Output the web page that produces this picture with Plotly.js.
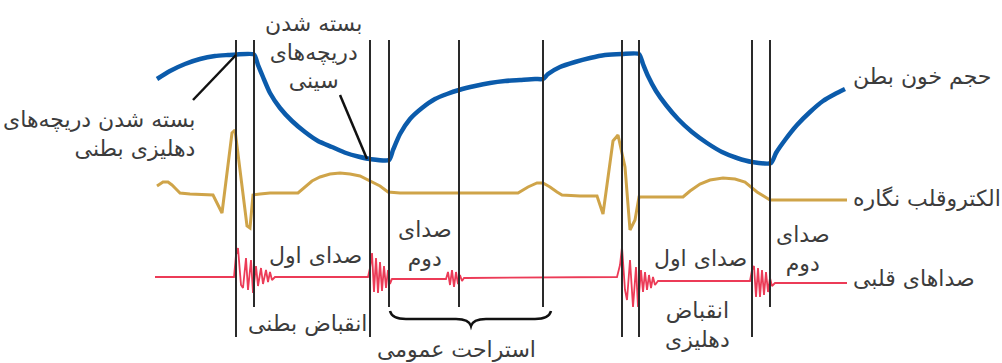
<!DOCTYPE html>
<html>
<head>
<meta charset="utf-8">
<script src="https://cdn.plot.ly/plotly-3.0.1.min.js"></script>
<style>html,body{margin:0;padding:0;background:#fff;}#chart{width:1002px;height:363px;}</style>
</head>
<body>
<div id="chart"></div>
<script>
// Ventricular blood volume (time, level in drawing units; y grows downward)
const volumeX = [157,170,185,200,215,228,236,254,258,263,270,280,292,305,318,332,346,358,370,389,393,400,410,422,435,447,459,475,490,505,520,535,543,548,560,575,590,605,622,639,643,648,656,666,678,692,707,722,737,752,771,776,785,797,810,823,835,845];
const volumeY = [79,71,64,59,56,55,54.5,54.5,65,77,93,108,121,132,141,147,153,156.5,159,160,150,134,119,108,99,94,90,86,83,81,80,79,79,74,67,62,58,55,54,54,64,76,91,105,119,132,143,152,158,162,163,153,140,125,112,101,94,89];

// Electrocardiogram
const ecgX = [157,163,168,172,176,180,190,213,222,227,232,235,240,247,250,253,260,270,298,305,312,320,330,340,350,360,370,380,388,400,450,518,528,537,543,550,557,562,580,597,603,608,613,618,625,630,635,639,660,683,690,700,710,723,735,745,757,765,770,800,847];
const ecgY = [186,182,182,185,189,193,194,195,213,175,133,130,170,226,228,195,194,193,193,187,181,177,174,173,174,176,181,186,192,193,193,193,187,183,183,187,192,195,196,196,214,178,141,135,167,230,220,197,197,197,191,184,180,178,179,182,192,197,200,200,200];

// Heart sounds
const soundX = [155,234,236,238,241,243,246,248,251,253,256,258,261,263,266,268,270,272,275,278,368,370,372,374,376,378,380,382,384,386,388,390,392,395,446,448,450,452,454,456,458,460,462,464,466,617,620,622,625,627,630,633,636,638,641,643,645,647,649,651,653,655,658,662,750,752,754,756,758,760,762,764,766,768,770,772,775,847];
const soundY = [277,277,255,248,285,288,258,290,260,293,266,286,268,284,270,282,272,280,277,277,277,268,253,292,258,293,262,291,266,288,270,284,279,279,279,272,285,270,287,272,284,275,281,278,278,277,265,247,290,300,260,307,267,307,270,292,272,290,275,288,277,285,281,281,281,270,266,297,268,297,270,295,272,292,278,286,283,283];

// Phase boundary markers
const markerX = [236,254,370,389,459,543,622,639,752,770];
const markerBottom = [337,307,337,307,307,307,337,337,337,307];
const markerTop = 40;

// Labels
const seriesLabels = ["حجم خون بطن","الکتروقلب نگاره","صداهای قلبی"];
const seriesLabelY = [77,198,278];

const phaseLabels = [
  {t:"بسته شدن دریچه‌های<br>دهلیزی بطنی", x:197, y:134, a:"right"},
  {t:"بسته شدن<br>دریچه‌های<br>سینی", x:313, y:52},
  {t:"صدای اول", x:315, y:255},
  {t:"انقباض بطنی", x:307, y:324},
  {t:"صدای<br>دوم", x:425, y:244},
  {t:"استراحت عمومی", x:456, y:349},
  {t:"صدای اول", x:700, y:258},
  {t:"انقباض<br>دهلیزی", x:697, y:325},
  {t:"صدای<br>دوم", x:803, y:249}
];

const FONT = "DejaVu Sans, Noto Sans, sans-serif";
const TXT = "#3c3c3c";
const FS = 22;

const traces = [
  {x: volumeX, y: volumeY, mode:"lines", line:{color:"#0b5bab", width:4.5, shape:"spline", smoothing:0.6}, hoverinfo:"skip"},
  {x: ecgX, y: ecgY, mode:"lines", line:{color:"#cfa449", width:3}, hoverinfo:"skip"},
  {x: soundX, y: soundY, mode:"lines", line:{color:"#ec3b57", width:1.8}, hoverinfo:"skip"}
];

const shapes = markerX.map((x,i)=>({type:"line", xref:"x", yref:"y", x0:x, x1:x, y0:markerTop, y1:markerBottom[i], line:{color:"#2a2a2a", width:2}, layer:"above"}));
shapes.push({type:"line", xref:"x", yref:"y", x0:193, y0:100, x1:236, y1:55, line:{color:"#111", width:2.5}});
shapes.push({type:"line", xref:"x", yref:"y", x0:340, y0:95, x1:367, y1:159, line:{color:"#111", width:2.5}});
shapes.push({type:"path", xref:"x", yref:"y", path:"M 390 311 Q 392 319 406 319 L 456 319 Q 469 319 471 326 Q 473 319 486 319 L 535 319 Q 549 319 551 311", line:{color:"#111", width:2.5}});

const annotations = [];
seriesLabels.forEach((t,i)=>annotations.push({text:t, x:851, y:seriesLabelY[i], xref:"x", yref:"y", xanchor:"left", yanchor:"middle", showarrow:false, font:{family:FONT, size:FS, color:TXT}}));
phaseLabels.forEach(p=>annotations.push({text:p.t, x:p.x, y:p.y, xref:"x", yref:"y", xanchor:p.a||"center", align:p.a||"center", yanchor:"middle", showarrow:false, font:{family:FONT, size:FS, color:TXT}}));

const layout = {
  width:1002, height:363,
  margin:{l:0,r:0,t:0,b:0},
  paper_bgcolor:"#fff", plot_bgcolor:"#fff",
  showlegend:false,
  xaxis:{range:[0,1002], visible:false, fixedrange:true},
  yaxis:{range:[363,0], visible:false, fixedrange:true},
  shapes, annotations
};
Plotly.newPlot("chart", traces, layout, {staticPlot:true, displayModeBar:false});
</script>
</body>
</html>
